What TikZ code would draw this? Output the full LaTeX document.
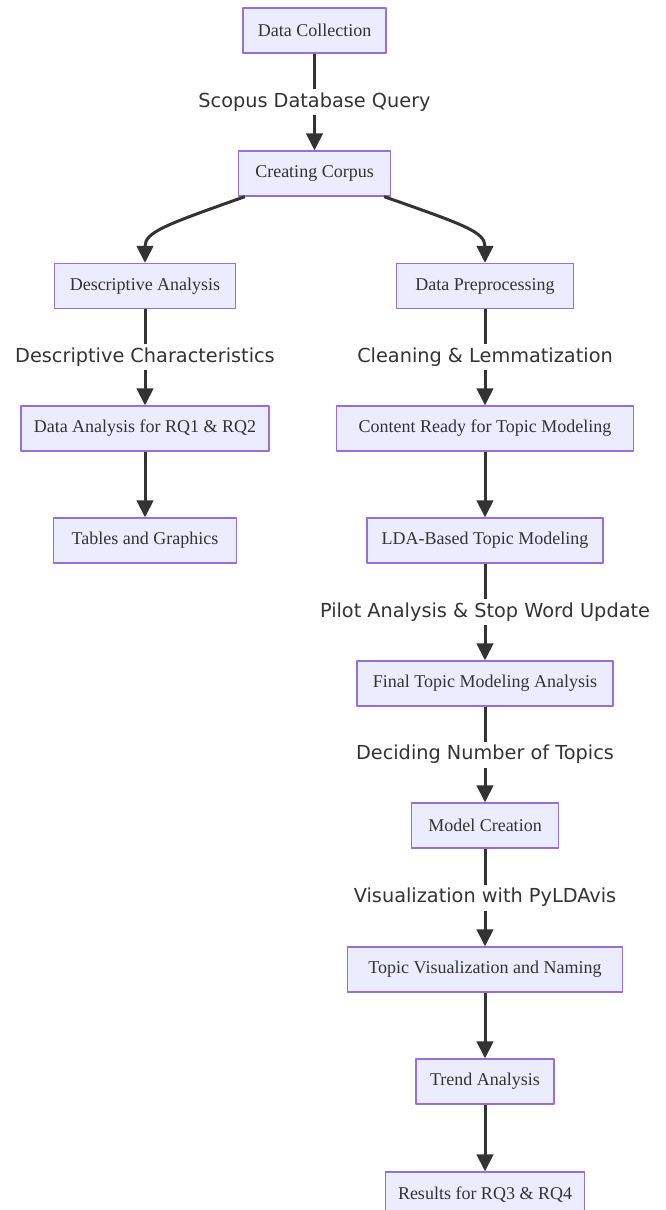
\documentclass[tikz,border=0pt]{standalone}
\usepackage{fontspec}
\setmainfont{Liberation Serif}
\newfontfamily\edgefont{DejaVu Sans}
\usepackage{xcolor}
\usetikzlibrary{arrows.meta,positioning}

\definecolor{boxfill}{HTML}{ECECFF}
\definecolor{boxline}{HTML}{9370DB}
\definecolor{edgeink}{HTML}{333333}

\begin{document}
\begin{tikzpicture}[
		x=1pt,
		y=-1pt,
		line join=round,
		stage/.style={
			draw=boxline,
			fill=boxfill,
			line width=1.3pt,
			minimum height=45pt,
			inner xsep=0pt,
			text=edgeink,
			font=\fontsize{18}{20}\selectfont
		},
		flow/.style={
			draw=edgeink,
			line width=3pt,
			-{Triangle[length=17pt,width=16.5pt]}
		},
		edgelabel/.style={
			fill=white,
			inner xsep=1pt,
			inner ysep=0pt,
			minimum height=26pt,
			text=edgeink,
			font=\edgefont\fontsize{19.3}{21}\selectfont
		}
		]
		
		% canvas
		\clip (0,0) rectangle (665,1210);
		\fill[white] (0,0) rectangle (665,1210);
		
		% top of the flow
		\node[stage,minimum width=143pt] (collect) at (314.5, 30.5) {Data Collection};
		\node[stage,minimum width=152pt] (corpus)  at (314.5,173.5) {Creating Corpus};
		
		% left branch
		\node[stage,minimum width=181pt] (descr)   at (145,286) {Descriptive Analysis};
		\node[stage,minimum width=248pt] (rqone)   at (145,428.5) {Data Analysis for RQ1 \& RQ2};
		\node[stage,minimum width=183pt] (tables)  at (145,540.5) {Tables and Graphics};
		
		% right branch
		\node[stage,minimum width=177pt] (prep)    at (485,286) {Data Preprocessing};
		\node[stage,minimum width=297pt] (ready)   at (485,428.5) {Content Ready for Topic Modeling};
		\node[stage,minimum width=236pt] (lda)     at (485,540.5) {LDA-Based Topic Modeling};
		\node[stage,minimum width=256pt] (final)   at (485,683.5) {Final Topic Modeling Analysis};
		\node[stage,minimum width=147pt] (model)   at (485,825.5) {Model Creation};
		\node[stage,minimum width=275pt] (visual)  at (485,969.5) {Topic Visualization and Naming};
		\node[stage,minimum width=138pt] (trend)   at (485,1081.5) {Trend Analysis};
		\node[stage,minimum width=199pt] (results) at (485,1194.5) {Results for RQ3 \& RQ4};
		
		% connectors
		\draw[flow] (collect) -- node[edgelabel] {Scopus Database Query} (corpus);
		
		\draw[flow] ([xshift=7pt]corpus.south west) .. controls (165,225) and (145,232) .. (descr.north);
		\draw[flow] ([xshift=-7pt]corpus.south east) .. controls (465,225) and (485,232) .. (prep.north);
		
		\draw[flow] (descr) -- node[edgelabel] {Descriptive Characteristics} (rqone);
		\draw[flow] (rqone) -- (tables);
		
		\draw[flow] (prep) -- node[edgelabel] {Cleaning \& Lemmatization} (ready);
		\draw[flow] (ready) -- (lda);
		\draw[flow] (lda) -- node[edgelabel] {Pilot Analysis \& Stop Word Update} (final);
		\draw[flow] (final) -- node[edgelabel] {Deciding Number of Topics} (model);
		\draw[flow] (model) -- node[edgelabel] {Visualization with PyLDAvis} (visual);
		\draw[flow] (visual) -- (trend);
		\draw[flow] (trend) -- (results);
	\end{tikzpicture}
\end{document}
